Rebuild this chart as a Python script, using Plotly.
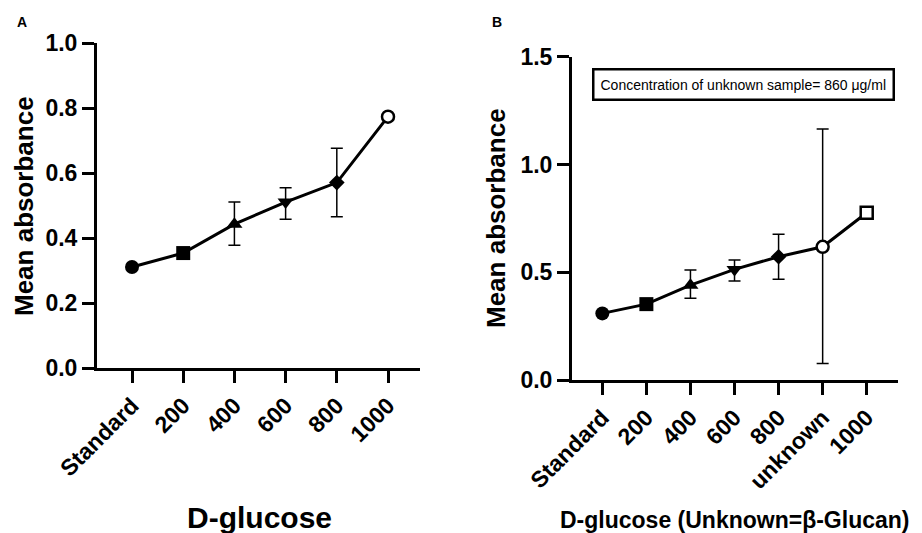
import plotly.graph_objects as go

# Panel A: D-glucose standards
cats_a = ["Standard", "200", "400", "600", "800", "1000"]
mean_a = [0.311, 0.354, 0.443, 0.511, 0.571, 0.774]
err_up_a = [0.0, 0.0, 0.068, 0.044, 0.106, 0.003]
err_dn_a = [0.0, 0.0, 0.065, 0.053, 0.105, 0.003]
sym_a = ["circle", "square", "triangle-up", "triangle-down", "diamond", "circle"]
fill_a = ["black", "black", "black", "black", "black", "white"]

# Panel B: standards plus the unknown (β-glucan) sample
cats_b = ["Standard", "200", "400", "600", "800", "unknown", "1000"]
mean_b = [0.309, 0.352, 0.440, 0.513, 0.572, 0.618, 0.776]
err_up_b = [0.0, 0.0, 0.070, 0.044, 0.104, 0.546, 0.003]
err_dn_b = [0.0, 0.0, 0.061, 0.054, 0.105, 0.541, 0.003]
sym_b = ["circle", "square", "triangle-up", "triangle-down", "diamond", "circle", "square"]
fill_b = ["black", "black", "black", "black", "black", "white", "white"]

yticks_a = [0.0, 0.2, 0.4, 0.6, 0.8, 1.0]
yticks_b = [0.0, 0.5, 1.0, 1.5]

FONT = "Arial, Liberation Sans, Helvetica, sans-serif"
W, H = 922, 533


def px(x):
    return x / W


def py(y):
    return 1 - y / H


def sizes(syms, fills):
    out = []
    for s, f in zip(syms, fills):
        if f == "white":
            out.append(12)
        elif s == "diamond":
            out.append(12)
        else:
            out.append(14)
    return out


def trace(cats, vals, up, dn, syms, fills, xa, ya):
    return go.Scatter(
        x=cats, y=vals, xaxis=xa, yaxis=ya, mode="lines+markers",
        line=dict(color="black", width=3),
        marker=dict(symbol=syms, color=fills, size=sizes(syms, fills), opacity=1,
                    line=dict(color="black",
                              width=[2.5 if f == "white" else 0 for f in fills])),
        error_y=dict(type="data", symmetric=False, array=up, arrayminus=dn,
                     color="black", thickness=1.5, width=6),
        showlegend=False, cliponaxis=False,
    )


fig = go.Figure()
fig.add_trace(trace(cats_a, mean_a, err_up_a, err_dn_a, sym_a, fill_a, "x", "y"))
fig.add_trace(trace(cats_b, mean_b, err_up_b, err_dn_b, sym_b, fill_b, "x2", "y2"))

axis_common = dict(showline=True, linecolor="black", linewidth=3, ticks="outside",
                   ticklen=12, tickwidth=3, tickcolor="black", showgrid=False,
                   zeroline=False, color="black", automargin=False)

fig.update_layout(
    width=W, height=H, margin=dict(l=0, r=0, t=0, b=0),
    paper_bgcolor="white", plot_bgcolor="white",
    font=dict(family=FONT, color="black"),
    xaxis=dict(domain=[px(97), px(420)], anchor="y", type="category",
               range=[-0.684, 5.625], tickangle=-45,
               tickfont=dict(size=23, weight="bold"), **axis_common),
    yaxis=dict(domain=[py(368), py(43.3)], anchor="x", range=[0, 1.0],
               tickvals=yticks_a, tickformat=".1f",
               tickfont=dict(size=23, weight="bold"), **axis_common),
    xaxis2=dict(domain=[px(572), px(898)], anchor="y2", type="category",
                range=[-0.688, 6.71], tickangle=-45,
                tickfont=dict(size=23, weight="bold"), **axis_common),
    yaxis2=dict(domain=[py(380), py(56.7)], anchor="x2", range=[0, 1.5],
                tickvals=yticks_b, tickformat=".1f",
                tickfont=dict(size=23, weight="bold"), **axis_common),
)

annotations = [
    dict(text="A", x=px(21.5), y=py(22), font=dict(size=14, weight="bold")),
    dict(text="B", x=px(497), y=py(22), font=dict(size=14, weight="bold")),
    dict(text="Mean absorbance", x=px(24), y=py(206), textangle=-90,
         font=dict(size=26, weight="bold")),
    dict(text="Mean absorbance", x=px(496), y=py(218), textangle=-90,
         font=dict(size=26, weight="bold")),
    dict(text="D-glucose", x=px(259), y=py(517), font=dict(size=30, weight="bold")),
    dict(text="D-glucose (Unknown=β-Glucan)", x=px(734), y=py(520),
         font=dict(size=23, weight="bold")),
    dict(text="Concentration of unknown sample= 860 μg/ml", x=px(743), y=py(84),
         font=dict(size=14), bordercolor="black", borderwidth=2.5, borderpad=6,
         bgcolor="white"),
]
for a in annotations:
    a.update(xref="paper", yref="paper", showarrow=False,
             xanchor="center", yanchor="middle")
fig.update_layout(annotations=annotations)

fig.write_html("out.html")
